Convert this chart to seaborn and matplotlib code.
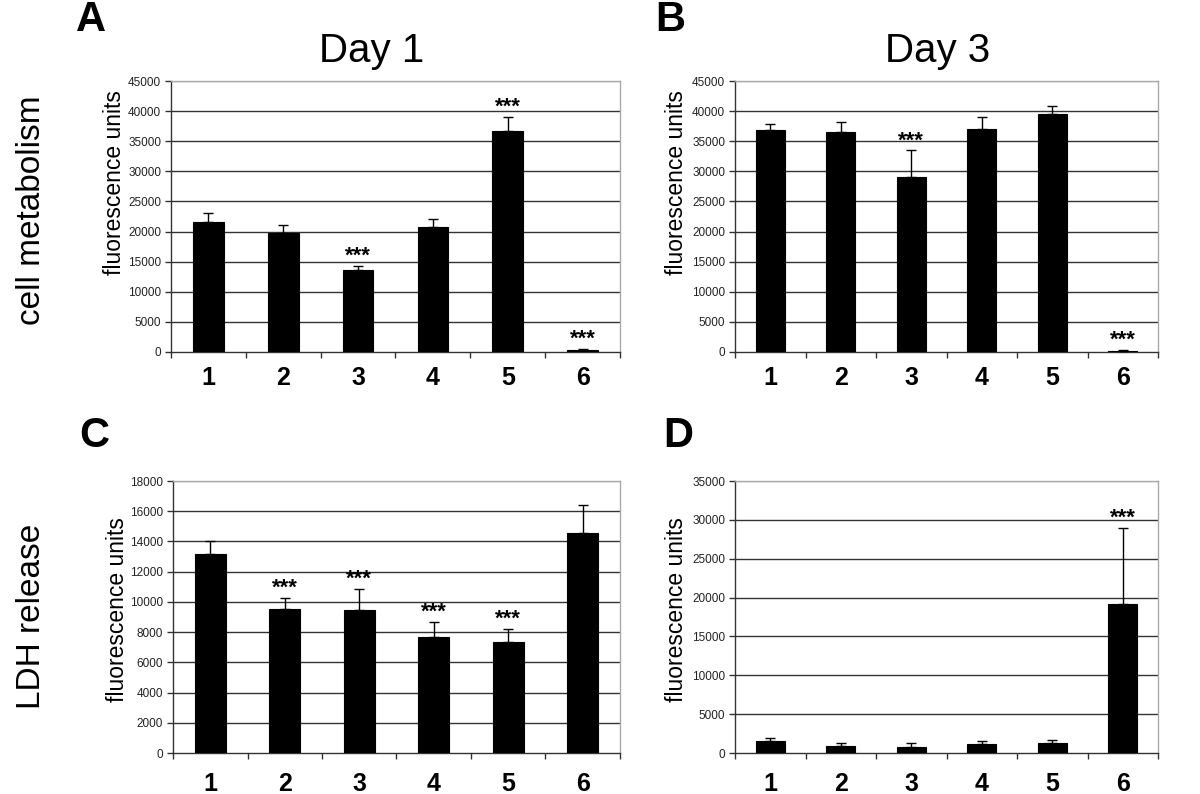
import matplotlib
matplotlib.use("Agg")
import matplotlib.pyplot as plt
import seaborn as sns
import numpy as np
import pandas as pd

# ---------------- data ----------------
groups = ["1", "2", "3", "4", "5", "6"]

day1_metab = [21650, 19820, 13690, 20760, 36780, 390]
day1_metab_err = [1490, 1270, 560, 1330, 2320, 160]
day1_metab_sig = [False, False, True, False, True, True]

day3_metab = [36890, 36500, 28990, 37050, 39540, 220]
day3_metab_err = [1050, 1770, 4470, 1990, 1270, 80]
day3_metab_sig = [False, False, True, False, False, True]

day1_ldh = [13170, 9530, 9460, 7680, 7320, 14560]
day1_ldh_err = [840, 730, 1370, 1010, 890, 1850]
day1_ldh_sig = [False, True, True, True, True, False]

day3_ldh = [1590, 940, 820, 1200, 1290, 19150]
day3_ldh_err = [340, 390, 430, 390, 380, 9830]
day3_ldh_sig = [False, False, False, False, False, True]

panel_letters = ["A", "B", "C", "D"]
col_titles = ["Day 1", "Day 3"]
row_labels = ["cell metabolism", "LDH release"]
ylabel = "fluorescence units"
ylims = [45000, 45000, 18000, 35000]
ysteps = [5000, 5000, 2000, 5000]

# ---------------- style ----------------
sns.set_theme(style="white")
plt.rcParams["font.family"] = ["Liberation Sans", "DejaVu Sans"]
plt.rcParams["text.color"] = "black"
plt.rcParams["axes.labelcolor"] = "black"
plt.rcParams["xtick.color"] = "black"
plt.rcParams["ytick.color"] = "#333333"

fig = plt.figure(figsize=(12, 7.94), dpi=100)

W, H = 1200, 794
def px_axes(l, t, r, b):
    return [l / W, (H - b) / H, (r - l) / W, (b - t) / H]

positions = [
    px_axes(171, 81, 620, 352),
    px_axes(735, 81, 1158, 352),
    px_axes(173, 481, 620, 753),
    px_axes(735, 481, 1158, 753),
]

datasets = [
    (day1_metab, day1_metab_err, day1_metab_sig),
    (day3_metab, day3_metab_err, day3_metab_sig),
    (day1_ldh, day1_ldh_err, day1_ldh_sig),
    (day3_ldh, day3_ldh_err, day3_ldh_sig),
]

label_x = [-0.100, -0.110, -0.098, -0.110]
label_y = [0.624, 0.624, 0.526, 0.526]
xpads = [10, 10, 14, 14]

for i, (pos, (vals, errs, sig)) in enumerate(zip(positions, datasets)):
    ax = fig.add_axes(pos)
    df = pd.DataFrame({"group": groups, "value": vals, "err": errs})
    sns.barplot(data=df, x="group", y="value", order=groups, color="black",
                saturation=1, width=0.41, errorbar=None, ax=ax,
                edgecolor="black", linewidth=0.8, zorder=3)
    xs = np.arange(len(groups))
    ax.errorbar(xs, df["value"], yerr=[np.zeros(len(groups)), df["err"]],
                fmt="none", ecolor="black", elinewidth=1.0, capsize=3.5,
                capthick=1.0, zorder=4)
    for x, v, e, s in zip(xs, vals, errs, sig):
        if s:
            ax.annotate("***", xy=(x, v + e), xytext=(0, 3),
                        textcoords="offset points", ha="center",
                        va="baseline", fontsize=16, fontweight="bold",
                        color="black")

    ax.set_xlim(-0.5, len(groups) - 0.5)
    ax.set_ylim(0, ylims[i])
    ticks = np.arange(0, ylims[i] + 1, ysteps[i])
    ax.set_yticks(ticks)
    ax.set_yticklabels([f"{int(t)}" for t in ticks], fontsize=8.5, color="#222222")
    ax.set_xticks(xs)
    ax.set_xticklabels(groups, fontsize=18, color="black", fontweight="bold")
    ax.xaxis.set_minor_locator(matplotlib.ticker.FixedLocator(np.arange(-0.5, len(groups), 1)))
    ax.tick_params(axis="x", which="major", length=0, pad=xpads[i])
    ax.tick_params(axis="x", which="minor", length=4, width=1, color="#333333",
                   direction="out", bottom=True)
    ax.tick_params(axis="y", length=4, width=1, color="#333333", direction="out",
                   left=True, pad=3)
    ax.set_xlabel("")
    ax.set_ylabel(ylabel, fontsize=16.5, color="black")
    ax.yaxis.set_label_coords(label_x[i], label_y[i])

    ax.yaxis.grid(True, color="#333333", linewidth=1.0)
    ax.xaxis.grid(False)
    ax.set_axisbelow(True)
    gl = ax.get_ygridlines()
    if len(gl):
        gl[-1].set_color("#aaaaaa")
        gl[0].set_visible(False)

    for side in ["left", "bottom"]:
        ax.spines[side].set_color("#333333")
        ax.spines[side].set_linewidth(1.0)
    for side in ["top", "right"]:
        ax.spines[side].set_color("#aaaaaa")
        ax.spines[side].set_linewidth(1.0)
        ax.spines[side].set_visible(True)

# panel letters
letter_pos = [(91, 20), (670, 20), (94, 436), (678, 436)]
for letter, (x, y) in zip(panel_letters, letter_pos):
    fig.text(x / W, 1 - y / H, letter, fontsize=30, fontweight="bold",
             ha="center", va="center", color="black")

# column titles
for title, x in zip(col_titles, [372, 938]):
    fig.text(x / W, 1 - 51 / H, title, fontsize=29, ha="center", va="center",
             color="black")

# row labels
for lab, y in zip(row_labels, [210, 616]):
    fig.text(32 / W, 1 - y / H, lab, fontsize=24, rotation=90,
             ha="center", va="center", color="black")

fig.savefig("out.png", dpi=100, facecolor="white")
